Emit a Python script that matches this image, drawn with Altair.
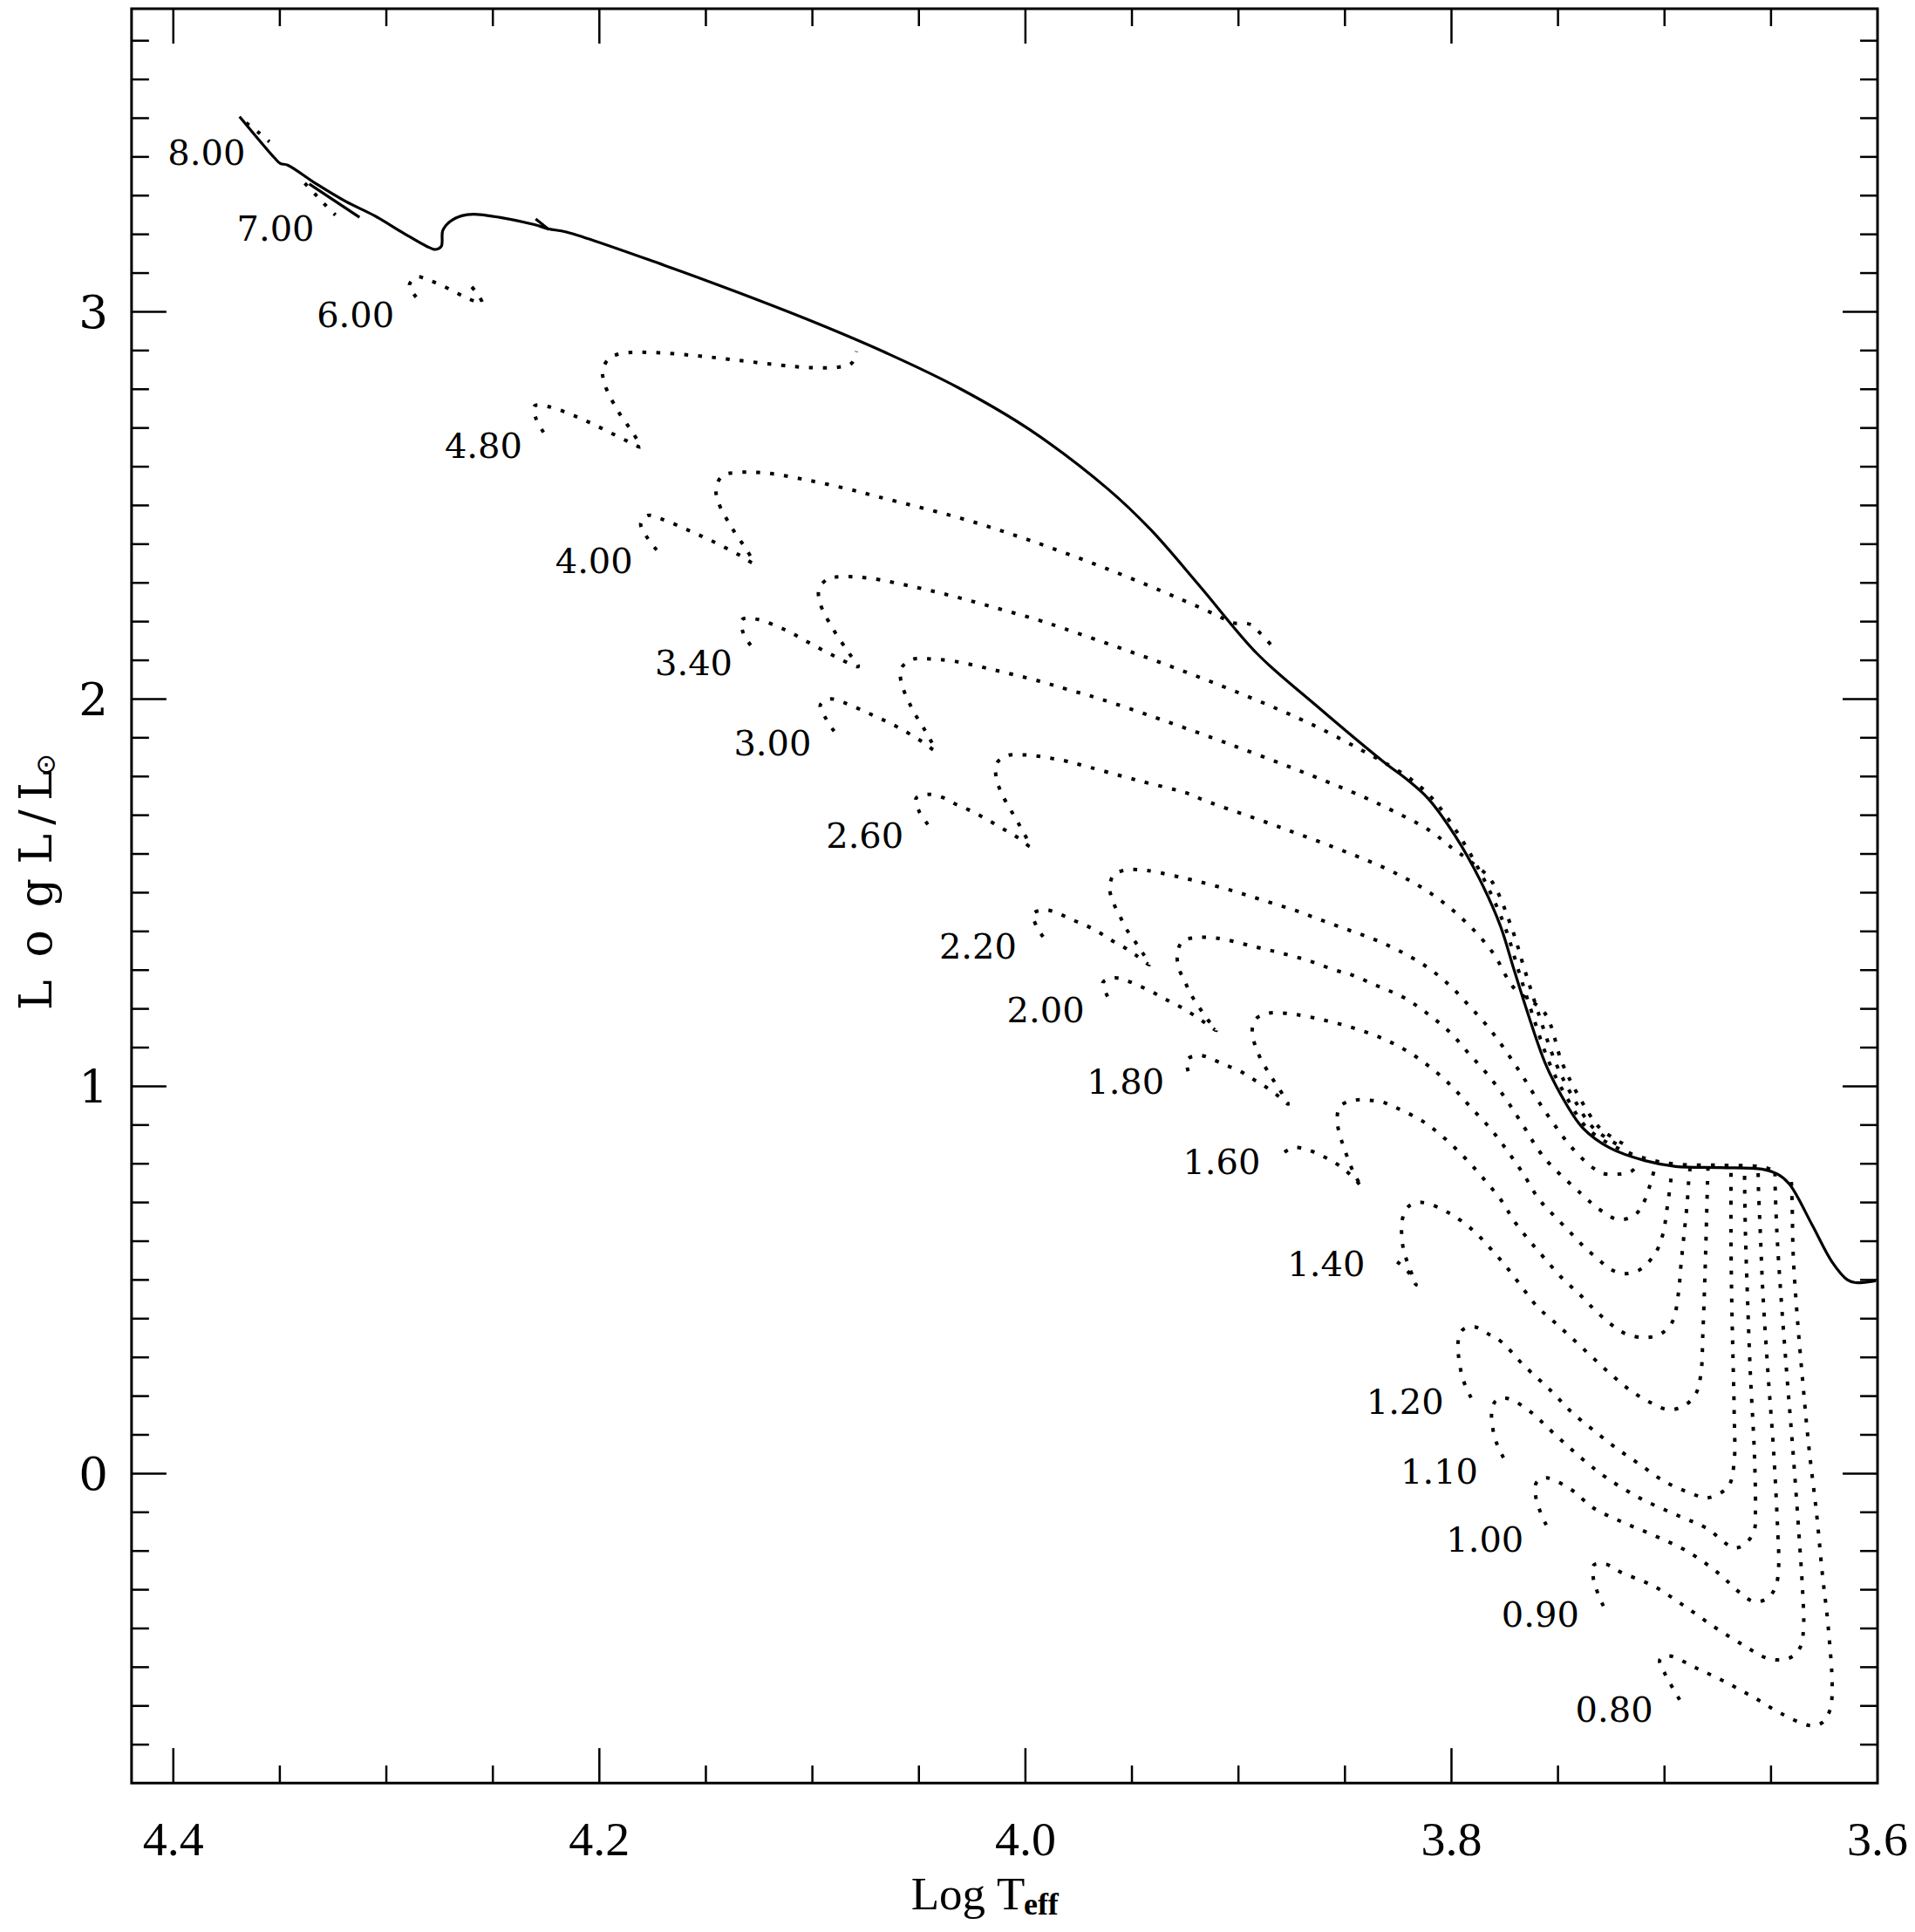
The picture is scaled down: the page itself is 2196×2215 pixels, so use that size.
import altair as alt
import pandas as pd

W, H = 2004, 2036

# ---------------- axes ----------------
X_DOMAIN = [4.4196, 3.6]
Y_DOMAIN = [-0.799, 3.7826]
X_LABEL_VALUES = [4.4, 4.2, 4.0, 3.8, 3.6]
X_LABEL_TEXT = ["4.4", "4.2", "4.0", "3.8", "3.6"]
Y_LABEL_VALUES = [0, 1, 2, 3]
Y_LABEL_TEXT = ["0", "1", "2", "3"]
X_MAJOR_TICKS = [4.4, 4.2, 4.0, 3.8]
X_MINOR_TICKS = [4.35, 4.30, 4.25, 4.15, 4.10, 4.05, 3.95, 3.90, 3.85, 3.75, 3.70, 3.65]
Y_MAJOR_TICKS = [0, 1, 2, 3]
Y_MINOR_TICKS = [-0.7, -0.6, -0.5, -0.4, -0.3, -0.2, -0.1,
                 0.1, 0.2, 0.3, 0.4, 0.5, 0.6, 0.7, 0.8, 0.9,
                 1.1, 1.2, 1.3, 1.4, 1.5, 1.6, 1.7, 1.8, 1.9,
                 2.1, 2.2, 2.3, 2.4, 2.5, 2.6, 2.7, 2.8, 2.9,
                 3.1, 3.2, 3.3, 3.4, 3.5, 3.6, 3.7]

# ---------------- solid line (log Teff, log L) ----------------
solid_main = [(4.3689, 3.504), (4.3526, 3.398), (4.3498, 3.383), (4.3464, 3.379), (4.3328, 3.330),
              (4.3191, 3.285), (4.3055, 3.248), (4.2919, 3.203), (4.2810, 3.169), (4.2769, 3.161),
              (4.2742, 3.169), (4.2735, 3.210), (4.2701, 3.233), (4.2646, 3.248), (4.2592, 3.252),
              (4.2470, 3.244), (4.2305, 3.225), (4.2237, 3.214), (4.2155, 3.206), (4.1695, 3.120),
              (4.1349, 3.050), (4.0977, 2.970), (4.0642, 2.891), (4.0315, 2.804), (3.9981, 2.696),
              (3.9614, 2.543), (3.9413, 2.438), (3.9179, 2.290), (3.8912, 2.117), (3.8645, 1.988),
              (3.8312, 1.835), (3.8208, 1.792), (3.8111, 1.744), (3.7983, 1.647), (3.7868, 1.535),
              (3.7771, 1.415), (3.7707, 1.302), (3.7642, 1.189), (3.7561, 1.061), (3.7480, 0.972),
              (3.7383, 0.892), (3.7254, 0.840), (3.7092, 0.808), (3.6947, 0.793), (3.6736, 0.790),
              (3.6542, 0.786), (3.6469, 0.773), (3.6413, 0.747), (3.6305, 0.640), (3.6214, 0.547),
              (3.6141, 0.500), (3.6104, 0.493), (3.6008, 0.498)]
solid_branch_700 = [(4.3362, 3.330), (4.3126, 3.244)]
solid_kink = [(4.2299, 3.240), (4.2237, 3.212)]

# ---------------- dotted evolutionary tracks ----------------
track_800 = [(4.3658, 3.488), (4.3600, 3.463), (4.3549, 3.439)]
track_700 = [(4.3383, 3.332), (4.3335, 3.304), (4.3287, 3.276), (4.3239, 3.250)]
track_600 = [(4.2860, 3.038), (4.2892, 3.069), (4.2858, 3.090), (4.2797, 3.081), (4.2732, 3.066),
             (4.2671, 3.049), (4.2612, 3.033), (4.2551, 3.023), (4.2585, 3.055), (4.2630, 3.083)]
track_480 = [(4.2262, 2.689), (4.2297, 2.723), (4.2304, 2.757), (4.2238, 2.755), (4.2111, 2.730),
             (4.1989, 2.699), (4.1865, 2.665), (4.1806, 2.651), (4.1840, 2.685), (4.1914, 2.745),
             (4.1975, 2.813), (4.1984, 2.850), (4.1953, 2.880), (4.1889, 2.893), (4.1752, 2.895),
             (4.1552, 2.887), (4.1351, 2.875), (4.1149, 2.862), (4.1013, 2.856), (4.0879, 2.857),
             (4.0816, 2.867), (4.0794, 2.898)]
track_400 = [(4.1731, 2.385), (4.1773, 2.415), (4.1806, 2.453), (4.1773, 2.474), (4.1713, 2.466),
             (4.1583, 2.436), (4.1463, 2.406), (4.1337, 2.370), (4.1276, 2.351), (4.1304, 2.381),
             (4.1379, 2.443), (4.1442, 2.509), (4.1452, 2.547), (4.1421, 2.577), (4.1358, 2.585),
             (4.1224, 2.584), (4.1020, 2.565), (4.0822, 2.541), (4.0689, 2.522), (4.0298, 2.466),
             (3.9981, 2.410), (3.9597, 2.332), (3.9280, 2.260), (3.9096, 2.215), (3.9029, 2.197),
             (3.8946, 2.193), (3.8896, 2.169), (3.8849, 2.141)]
track_340 = [(4.1290, 2.139), (4.1324, 2.169), (4.1330, 2.205), (4.1269, 2.207), (4.1133, 2.180),
             (4.1014, 2.145), (4.0894, 2.110), (4.0785, 2.084), (4.0826, 2.117), (4.0901, 2.179),
             (4.0963, 2.246), (4.0969, 2.284), (4.0928, 2.310), (4.0863, 2.316), (4.0731, 2.312),
             (4.0526, 2.290), (4.0335, 2.265), (4.0137, 2.235), (3.9940, 2.204), (3.9813, 2.181),
             (3.9380, 2.097), (3.8980, 2.012), (3.8646, 1.932), (3.8395, 1.860), (3.8312, 1.835),
             (3.8188, 1.792), (3.8091, 1.744), (3.7963, 1.647), (3.7848, 1.535), (3.7751, 1.415),
             (3.7687, 1.302), (3.7622, 1.189), (3.7541, 1.061), (3.7460, 0.972), (3.7363, 0.892),
             (3.7240, 0.846), (3.7092, 0.814), (3.6947, 0.799), (3.6736, 0.796), (3.6542, 0.792),
             (3.6469, 0.779)]
track_300 = [(4.0898, 1.917), (4.0935, 1.948), (4.0963, 1.984), (4.0918, 2.000), (4.0853, 1.991),
             (4.0727, 1.961), (4.0601, 1.928), (4.0485, 1.890), (4.0425, 1.868), (4.0465, 1.913),
             (4.0533, 1.976), (4.0585, 2.048), (4.0581, 2.081), (4.0533, 2.102), (4.0465, 2.104),
             (4.0329, 2.097), (4.0131, 2.073), (3.9933, 2.046), (3.9804, 2.025), (3.9647, 2.000),
             (3.9034, 1.882), (3.8467, 1.760), (3.8281, 1.713), (3.8104, 1.661), (3.7996, 1.615),
             (3.7927, 1.587), (3.7818, 1.535), (3.7721, 1.415), (3.7657, 1.302), (3.7592, 1.189),
             (3.7511, 1.061), (3.7430, 0.972), (3.7333, 0.892), (3.7215, 0.848)]
track_260 = [(4.0458, 1.676), (4.0499, 1.710), (4.0513, 1.744), (4.0458, 1.754), (4.0390, 1.746),
             (4.0329, 1.729), (4.0267, 1.714), (4.0206, 1.697), (4.0149, 1.679), (4.0090, 1.660),
             (4.0032, 1.641), (3.9977, 1.619), (4.0015, 1.661), (4.0049, 1.695), (4.0086, 1.729),
             (4.0117, 1.763), (4.0137, 1.796), (4.0135, 1.834), (4.0086, 1.854), (4.0015, 1.856),
             (3.9947, 1.853), (3.9879, 1.847), (3.9811, 1.840), (3.9747, 1.831), (3.9480, 1.791),
             (3.9230, 1.755), (3.9163, 1.739), (3.8800, 1.668), (3.8467, 1.599), (3.8276, 1.554),
             (3.8099, 1.499), (3.7942, 1.429), (3.7807, 1.346), (3.7707, 1.254), (3.7562, 1.189),
             (3.7481, 1.061), (3.7400, 0.972), (3.7303, 0.892), (3.7195, 0.852)]
track_220 = [(3.9917, 1.386), (3.9949, 1.414), (3.9963, 1.446), (3.9900, 1.455), (3.9837, 1.444),
             (3.9776, 1.429), (3.9714, 1.415), (3.9653, 1.397), (3.9593, 1.376), (3.9534, 1.358),
             (3.9477, 1.337), (3.9418, 1.314), (3.9449, 1.344), (3.9487, 1.375), (3.9526, 1.406),
             (3.9557, 1.440), (3.9587, 1.474), (3.9604, 1.509), (3.9587, 1.545), (3.9526, 1.559),
             (3.9456, 1.559), (3.9393, 1.554), (3.9266, 1.539), (3.9132, 1.521), (3.8998, 1.500),
             (3.8871, 1.478), (3.8738, 1.455), (3.8611, 1.429), (3.8480, 1.403), (3.8357, 1.378),
             (3.8232, 1.346), (3.8115, 1.308), (3.8011, 1.262), (3.7919, 1.209), (3.7828, 1.153),
             (3.7747, 1.093), (3.7674, 1.033), (3.7601, 0.969), (3.7525, 0.907), (3.7445, 0.848),
             (3.7351, 0.796), (3.7289, 0.775), (3.7225, 0.773), (3.7160, 0.779), (3.7112, 0.804)]
track_200 = [(3.9614, 1.232), (3.9636, 1.268), (3.9582, 1.280), (3.9516, 1.271), (3.9452, 1.256),
             (3.9389, 1.239), (3.9329, 1.221), (3.9269, 1.204), (3.9210, 1.184), (3.9154, 1.163),
             (3.9104, 1.144), (3.9147, 1.174), (3.9189, 1.208), (3.9224, 1.238), (3.9252, 1.271),
             (3.9280, 1.305), (3.9287, 1.343), (3.9262, 1.375), (3.9196, 1.384), (3.9128, 1.384),
             (3.9062, 1.379), (3.8929, 1.361), (3.8799, 1.344), (3.8668, 1.324), (3.8542, 1.299),
             (3.8480, 1.290), (3.8351, 1.260), (3.8227, 1.230), (3.8116, 1.189), (3.8010, 1.141),
             (3.7919, 1.085), (3.7828, 1.029), (3.7747, 0.969), (3.7674, 0.908), (3.7565, 0.816),
             (3.7392, 0.723), (3.7300, 0.680), (3.7218, 0.656), (3.7143, 0.666), (3.7100, 0.697),
             (3.7058, 0.764), (3.7044, 0.795)]
track_180 = [(3.9236, 1.039), (3.9241, 1.069), (3.9182, 1.080), (3.9112, 1.067), (3.9056, 1.054),
             (3.8992, 1.039), (3.8936, 1.020), (3.8879, 1.001), (3.8823, 0.979), (3.8767, 0.954),
             (3.8788, 0.975), (3.8823, 1.005), (3.8858, 1.035), (3.8894, 1.069), (3.8922, 1.106),
             (3.8936, 1.142), (3.8918, 1.174), (3.8858, 1.189), (3.8791, 1.189), (3.8725, 1.185),
             (3.8591, 1.170), (3.8456, 1.150), (3.8326, 1.124), (3.8208, 1.091), (3.8099, 1.049),
             (3.7999, 1.000), (3.7910, 0.946), (3.7816, 0.890), (3.7736, 0.832), (3.7661, 0.772),
             (3.7593, 0.711), (3.7528, 0.671), (3.7455, 0.630), (3.7382, 0.588), (3.7309, 0.552),
             (3.7255, 0.528), (3.7191, 0.516), (3.7117, 0.526), (3.7044, 0.568), (3.7007, 0.619),
             (3.6989, 0.681), (3.6971, 0.754), (3.6965, 0.788)]
track_160 = [(3.8784, 0.830), (3.8738, 0.842), (3.8675, 0.836), (3.8611, 0.821), (3.8548, 0.803),
             (3.8492, 0.780), (3.8443, 0.754), (3.8421, 0.739), (3.8456, 0.773), (3.8484, 0.810),
             (3.8506, 0.844), (3.8526, 0.878), (3.8537, 0.915), (3.8522, 0.949), (3.8456, 0.964),
             (3.8386, 0.964), (3.8323, 0.959), (3.8257, 0.944), (3.8136, 0.910), (3.8031, 0.865),
             (3.7935, 0.814), (3.7844, 0.758), (3.7758, 0.699), (3.7711, 0.656), (3.7638, 0.604),
             (3.7565, 0.557), (3.7483, 0.506), (3.7401, 0.464), (3.7328, 0.423), (3.7255, 0.387),
             (3.7182, 0.361), (3.7091, 0.351), (3.7017, 0.361), (3.6963, 0.392), (3.6935, 0.464),
             (3.6923, 0.537), (3.6908, 0.619), (3.6893, 0.702), (3.6886, 0.759), (3.6880, 0.788)]
track_140 = [(3.8255, 0.547), (3.8206, 0.523), (3.8166, 0.487), (3.8200, 0.535), (3.8225, 0.578),
             (3.8234, 0.619), (3.8231, 0.656), (3.8203, 0.689), (3.8140, 0.700), (3.8012, 0.673),
             (3.7903, 0.630), (3.7820, 0.583), (3.7747, 0.537), (3.7674, 0.485), (3.7601, 0.433),
             (3.7519, 0.392), (3.7437, 0.351), (3.7346, 0.304), (3.7255, 0.258), (3.7163, 0.216),
             (3.7072, 0.185), (3.6981, 0.165), (3.6908, 0.175), (3.6853, 0.206), (3.6829, 0.258),
             (3.6820, 0.361), (3.6813, 0.464), (3.6807, 0.568), (3.6802, 0.671), (3.6798, 0.754),
             (3.6796, 0.787)]
track_120 = [(3.7908, 0.196), (3.7935, 0.227), (3.7953, 0.258), (3.7966, 0.299), (3.7969, 0.340),
             (3.7948, 0.371), (3.7893, 0.379), (3.7829, 0.361), (3.7765, 0.340), (3.7665, 0.282),
             (3.7528, 0.211), (3.7437, 0.159), (3.7336, 0.113), (3.7227, 0.066), (3.7117, 0.024),
             (3.6998, -0.021), (3.6871, -0.052), (3.6806, -0.063), (3.6743, -0.052), (3.6697, -0.031),
             (3.6673, 0.030), (3.6673, 0.159), (3.6679, 0.310), (3.6685, 0.464), (3.6688, 0.619),
             (3.6688, 0.754), (3.6688, 0.787)]
track_110 = [(3.7756, 0.041), (3.7787, 0.077), (3.7805, 0.113), (3.7811, 0.159), (3.7793, 0.187),
             (3.7738, 0.194), (3.7628, 0.159), (3.7528, 0.108), (3.7382, 0.036), (3.7272, -0.011),
             (3.7117, -0.063), (3.6935, -0.109), (3.6806, -0.140), (3.6670, -0.192), (3.6611, -0.176),
             (3.6578, -0.145), (3.6573, -0.093), (3.6578, 0.051), (3.6597, 0.258), (3.6611, 0.464),
             (3.6620, 0.619), (3.6624, 0.754), (3.6624, 0.787)]
track_100 = [(3.7555, -0.133), (3.7583, -0.099), (3.7605, -0.057), (3.7601, -0.023), (3.7555, -0.011),
             (3.7437, -0.042), (3.7336, -0.088), (3.7199, -0.125), (3.7044, -0.161), (3.6889, -0.202),
             (3.6743, -0.259), (3.6652, -0.305), (3.6578, -0.331), (3.6514, -0.321), (3.6477, -0.290),
             (3.6464, -0.238), (3.6468, -0.156), (3.6487, 0.051), (3.6514, 0.258), (3.6538, 0.464),
             (3.6550, 0.619), (3.6560, 0.754), (3.6560, 0.787)]
track_090 = [(3.7287, -0.342), (3.7313, -0.309), (3.7334, -0.271), (3.7331, -0.236), (3.7276, -0.234),
             (3.7208, -0.254), (3.7053, -0.290), (3.6907, -0.342), (3.6761, -0.398), (3.6624, -0.445),
             (3.6523, -0.476), (3.6451, -0.481), (3.6396, -0.471), (3.6360, -0.445), (3.6347, -0.393),
             (3.6351, -0.311), (3.6369, -0.156), (3.6396, 0.051), (3.6426, 0.258), (3.6454, 0.464),
             (3.6472, 0.619), (3.6481, 0.754), (3.6481, 0.787)]
track_080 = [(3.6929, -0.584), (3.6962, -0.553), (3.6998, -0.517), (3.7022, -0.481), (3.6980, -0.471),
             (3.6852, -0.502), (3.6715, -0.538), (3.6578, -0.579), (3.6451, -0.620), (3.6314, -0.651),
             (3.6259, -0.643), (3.6223, -0.610), (3.6213, -0.553), (3.6232, -0.393), (3.6259, -0.259),
             (3.6286, -0.104), (3.6323, 0.072), (3.6351, 0.237), (3.6378, 0.413), (3.6396, 0.568),
             (3.6401, 0.702), (3.6405, 0.760)]

# ---------------- mass labels ----------------
LABEL_TEXT = ["8.00", "7.00", "6.00", "4.80", "4.00", "3.40", "3.00", "2.60", "2.20",
              "2.00", "1.80", "1.60", "1.40", "1.20", "1.10", "1.00", "0.90", "0.80"]
LABEL_LOGT = [4.3844, 4.3520, 4.3145, 4.2544, 4.2025, 4.1557, 4.1187, 4.0754, 4.0223,
              3.9905, 3.9530, 3.9079, 3.8588, 3.8218, 3.8057, 3.7843, 3.7583, 3.7236]
LABEL_LOGL = [3.407, 3.210, 2.987, 2.650, 2.352, 2.088, 1.881, 1.643, 1.357,
              1.192, 1.008, 0.801, 0.537, 0.181, 0.000, -0.174, -0.368, -0.613]

# ---------------- build tables ----------------
dotted_tracks = [("8.00", track_800), ("7.00", track_700), ("6.00", track_600), ("4.80", track_480),
                 ("4.00", track_400), ("3.40", track_340), ("3.00", track_300), ("2.60", track_260),
                 ("2.20", track_220), ("2.00", track_200), ("1.80", track_180), ("1.60", track_160),
                 ("1.40", track_140), ("1.20", track_120), ("1.10", track_110), ("1.00", track_100),
                 ("0.90", track_090), ("0.80", track_080)]
solid_segments = [("main", solid_main), ("b700", solid_branch_700), ("kink", solid_kink)]


def to_frame(groups, key):
    rows = []
    for name, pts in groups:
        for i, (t, l) in enumerate(pts):
            rows.append({key: name, "i": i, "logT": t, "logL": l})
    return pd.DataFrame(rows)


dotted_df = to_frame(dotted_tracks, "track")
solid_df = to_frame(solid_segments, "seg")
label_df = pd.DataFrame({"text": LABEL_TEXT, "logT": LABEL_LOGT, "logL": LABEL_LOGL})
xlab_df = pd.DataFrame({"v": X_LABEL_VALUES, "t": X_LABEL_TEXT})
ylab_df = pd.DataFrame({"v": Y_LABEL_VALUES, "t": Y_LABEL_TEXT})

xscale = alt.Scale(domain=X_DOMAIN, nice=False, zero=False)
yscale = alt.Scale(domain=Y_DOMAIN, nice=False, zero=False)
X = lambda f: alt.X(f, scale=xscale, axis=None)
Y = lambda f: alt.Y(f, scale=yscale, axis=None)

solid = alt.Chart(solid_df).mark_line(color="black", strokeWidth=3.2,
                                      interpolate="catmull-rom").encode(
    x=X("logT:Q"), y=Y("logL:Q"), detail="seg:N", order=alt.Order("i:Q"))

dotted = alt.Chart(dotted_df).mark_line(color="black", strokeWidth=4, strokeDash=[4.5, 11.5],
                                        strokeCap="butt", interpolate="catmull-rom").encode(
    x=X("logT:Q"), y=Y("logL:Q"), detail="track:N", order=alt.Order("i:Q"))

labels = alt.Chart(label_df).mark_text(font="DejaVu Serif", fontSize=40, color="black",
                                       align="center", baseline="middle").encode(
    x=X("logT:Q"), y=Y("logL:Q"), text="text:N")

xlabels = alt.Chart(xlab_df).mark_text(font="Liberation Serif", fontSize=56, color="black",
                                       align="center", baseline="alphabetic").encode(
    x=X("v:Q"), y=alt.value(H + 83), text="t:N")

ylabels = alt.Chart(ylab_df).mark_text(font="DejaVu Serif", fontSize=53, color="black",
                                       align="right", baseline="alphabetic", dy=19).encode(
    y=Y("v:Q"), x=alt.value(-27), text="t:N")


def xticks(vals, y0, y1):
    return alt.Chart(pd.DataFrame({"v": vals})).mark_rule(color="black", strokeWidth=2.5).encode(
        x=X("v:Q"), y=alt.value(y0), y2=alt.value(y1))


def yticks(vals, x0, x1):
    return alt.Chart(pd.DataFrame({"v": vals})).mark_rule(color="black", strokeWidth=2.5).encode(
        y=Y("v:Q"), x=alt.value(x0), x2=alt.value(x1))


MAJ, MIN = 40, 20
tick_layers = [
    xticks(X_MAJOR_TICKS, H, H - MAJ), xticks(X_MINOR_TICKS, H, H - MIN),
    xticks(X_MAJOR_TICKS, 0, MAJ), xticks(X_MINOR_TICKS, 0, MIN),
    yticks(Y_MAJOR_TICKS, 0, MAJ), yticks(Y_MINOR_TICKS, 0, MIN),
    yticks(Y_MAJOR_TICKS, W, W - MAJ), yticks(Y_MINOR_TICKS, W, W - MIN),
]


def txt(s, x, y, size, font, align="left", baseline="alphabetic", angle=0, weight="normal"):
    return alt.Chart(pd.DataFrame({"t": [s]})).mark_text(
        font=font, fontSize=size, align=align, baseline=baseline, angle=angle,
        fontWeight=weight, color="black").encode(text="t:N", x=alt.value(x), y=alt.value(y))


titles = [
    txt("Log", 980, 2181, 53, "Liberation Serif", align="right"),
    txt("T", 993, 2181, 53, "Liberation Serif"),
    txt("eff", 1024, 2187, 36, "Liberation Serif", weight="bold"),
    txt("L\u2002o\u2002g L\u2009/\u2009L", -92, 1149, 52, "DejaVu Serif", angle=270),
    txt("\u2299", -98, 868, 30, "DejaVu Sans", align="center", baseline="middle"),
]

chart = alt.layer(solid, dotted, labels, xlabels, ylabels, *tick_layers, *titles).properties(
    width=W, height=H,
    autosize=alt.AutoSizeParams(type="none"),
    padding={"left": 143, "top": 1, "right": 35, "bottom": 160},
).configure_view(stroke="black", strokeWidth=3)

chart.save("out.html", embed_options={"renderer": "svg", "actions": False})
